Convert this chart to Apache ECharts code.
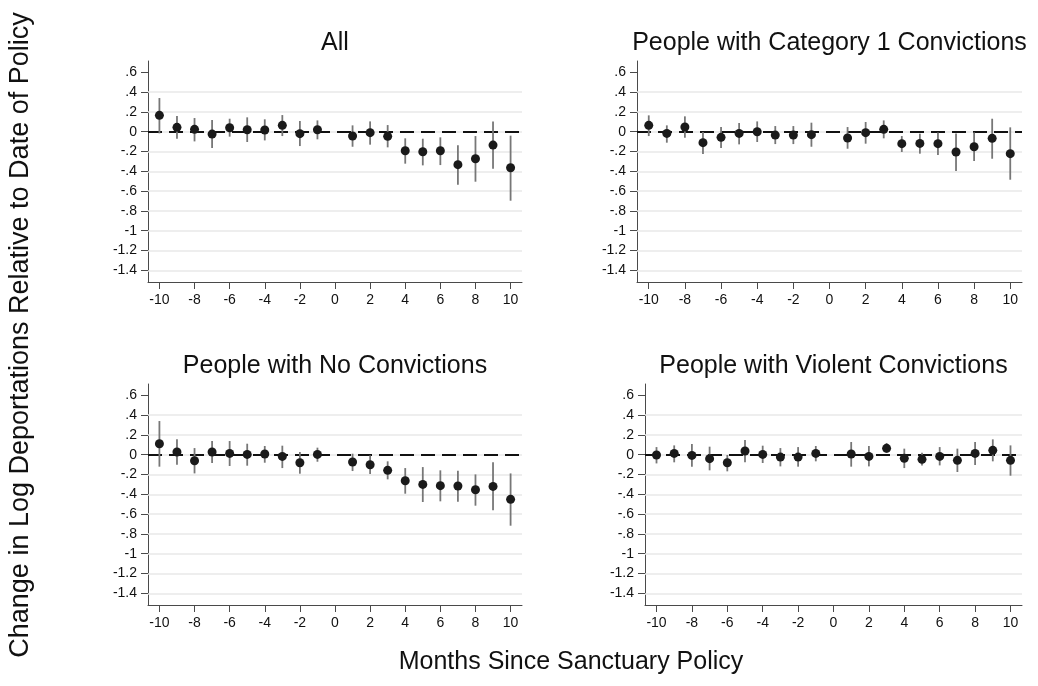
<!DOCTYPE html>
<html>
<head>
<meta charset="utf-8">
<title>Event study: deportations around sanctuary policy</title>
<script src="https://cdn.jsdelivr.net/npm/echarts@6/dist/echarts.min.js"></script>
<style>
  html, body { margin: 0; padding: 0; background: #ffffff; }
  #chart { width: 1038px; height: 686px; }
</style>
</head>
<body>
<div id="chart"></div>
<script>
// Event-time months (0 is the reference month and is omitted)
const months = [-10, -9, -8, -7, -6, -5, -4, -3, -2, -1, 1, 2, 3, 4, 5, 6, 7, 8, 9, 10];

// Panel titles
const panelTitles = [
  'All',
  'People with Category 1 Convictions',
  'People with No Convictions',
  'People with Violent Convictions'
];

// All deportations: point estimate and 95% CI bounds
const allEst = [0.165, 0.044, 0.024, -0.024, 0.040, 0.020, 0.017, 0.064, -0.020, 0.020,
                -0.044, -0.010, -0.047, -0.192, -0.202, -0.192, -0.333, -0.273, -0.135, -0.364];
const allLo  = [-0.017, -0.070, -0.098, -0.165, -0.050, -0.104, -0.088, -0.044, -0.145, -0.077,
                -0.152, -0.131, -0.158, -0.323, -0.340, -0.337, -0.535, -0.505, -0.374, -0.697];
const allHi  = [0.340, 0.158, 0.138, 0.118, 0.131, 0.145, 0.125, 0.168, 0.108, 0.114,
                0.064, 0.104, 0.067, -0.067, -0.071, -0.057, -0.138, -0.044, 0.104, -0.040];

// Category 1 convictions
const cat1Est = [0.064, -0.017, 0.047, -0.111, -0.057, -0.017, 0.000, -0.034, -0.034, -0.030,
                 -0.064, -0.010, 0.024, -0.121, -0.118, -0.121, -0.205, -0.152, -0.067, -0.222];
const cat1Lo  = [-0.044, -0.111, -0.061, -0.226, -0.165, -0.128, -0.104, -0.125, -0.125, -0.152,
                 -0.172, -0.121, -0.067, -0.205, -0.222, -0.236, -0.397, -0.296, -0.273, -0.485];
const cat1Hi  = [0.165, 0.064, 0.155, -0.003, 0.047, 0.088, 0.104, 0.057, 0.057, 0.091,
                 0.047, 0.098, 0.114, -0.044, -0.020, -0.007, -0.017, -0.007, 0.131, 0.044];

// No convictions
const noneEst = [0.111, 0.027, -0.061, 0.027, 0.013, 0.003, 0.007, -0.017, -0.081, 0.003,
                 -0.074, -0.101, -0.158, -0.263, -0.300, -0.313, -0.316, -0.354, -0.320, -0.451];
const noneLo  = [-0.121, -0.101, -0.189, -0.084, -0.114, -0.111, -0.081, -0.135, -0.192, -0.071,
                 -0.165, -0.195, -0.249, -0.394, -0.478, -0.471, -0.475, -0.515, -0.562, -0.717];
const noneHi  = [0.340, 0.155, 0.067, 0.138, 0.138, 0.111, 0.088, 0.091, 0.027, 0.071,
                 0.010, -0.007, -0.067, -0.135, -0.125, -0.158, -0.162, -0.199, -0.077, -0.189];

// Violent convictions
const violEst = [-0.003, 0.013, -0.007, -0.040, -0.081, 0.037, 0.003, -0.024, -0.024, 0.013,
                 0.007, -0.017, 0.064, -0.037, -0.047, -0.017, -0.057, 0.013, 0.044, -0.057];
const violLo  = [-0.088, -0.077, -0.121, -0.158, -0.168, -0.077, -0.084, -0.118, -0.121, -0.067,
                 -0.121, -0.118, 0.017, -0.135, -0.108, -0.108, -0.175, -0.104, -0.067, -0.212];
const violHi  = [0.077, 0.094, 0.108, 0.081, -0.003, 0.148, 0.091, 0.067, 0.077, 0.088,
                 0.128, 0.088, 0.118, 0.061, 0.020, 0.077, 0.061, 0.128, 0.155, 0.094];

// Axis ticks and their printed labels
const yTicks = [0.6, 0.4, 0.2, 0, -0.2, -0.4, -0.6, -0.8, -1, -1.2, -1.4];
const yTickLabels = ['.6', '.4', '.2', '0', '-.2', '-.4', '-.6', '-.8', '-1', '-1.2', '-1.4'];
const gridValues = [0.4, 0.2, 0, -0.2, -0.4, -0.6, -0.8, -1, -1.2, -1.4];
const xTicks = [-10, -8, -6, -4, -2, 0, 2, 4, 6, 8, 10];
const xTickLabels = ['-10', '-8', '-6', '-4', '-2', '0', '2', '4', '6', '8', '10'];

const panels = [
  { est: allEst,  lo: allLo,  hi: allHi  },
  { est: cat1Est, lo: cat1Lo, hi: cat1Hi },
  { est: noneEst, lo: noneLo, hi: noneHi },
  { est: violEst, lo: violLo, hi: violHi }
];

const FONT = '"Liberation Sans", Arial, Helvetica, sans-serif';
const X_MIN = -10.65, X_MAX = 10.65;
const Y_MIN = -1.518, Y_MAX = 0.714;

// Plot-region boxes for the 2x2 layout
const grids = [
  { left: 148, right: 516, top: 61,  bottom: 404 },
  { left: 637, right: 16,  top: 61,  bottom: 404 },
  { left: 148, right: 516, top: 384, bottom: 81 },
  { left: 645, right: 16,  top: 384, bottom: 81 }
];

function labelFor(ticks, labels) {
  return function (v) {
    for (let i = 0; i < ticks.length; i++) {
      if (Math.abs(ticks[i] - v) < 1e-6) return labels[i];
    }
    return '';
  };
}

const axisColor = '#4a4a4a';

const xAxes = grids.map((g, i) => ({
  gridIndex: i, type: 'value', min: X_MIN, max: X_MAX,
  axisLine: { show: true, onZero: false, lineStyle: { color: axisColor, width: 1 } },
  axisTick: { show: true, length: 7, customValues: xTicks, lineStyle: { color: axisColor } },
  axisLabel: { customValues: xTicks, formatter: labelFor(xTicks, xTickLabels),
               fontSize: 14, color: '#111', fontFamily: FONT, margin: 11 },
  splitLine: { show: false }
}));

const yAxes = grids.map((g, i) => ({
  gridIndex: i, type: 'value', min: Y_MIN, max: Y_MAX,
  axisLine: { show: true, onZero: false, lineStyle: { color: axisColor, width: 1 } },
  axisTick: { show: true, length: 7, customValues: yTicks, lineStyle: { color: axisColor } },
  axisLabel: { customValues: yTicks, formatter: labelFor(yTicks, yTickLabels),
               fontSize: 14, color: '#111', fontFamily: FONT, margin: 11 },
  splitLine: { show: false }
}));

const series = [];
panels.forEach((p, i) => {
  // light horizontal grid lines
  series.push({
    type: 'line', xAxisIndex: i, yAxisIndex: i, data: [], z: 1, silent: true,
    markLine: {
      silent: true, symbol: ['none', 'none'], label: { show: false }, z: 1,
      lineStyle: { color: '#e8e8e8', width: 1.6, type: 'solid' },
      data: gridValues.map(v => ({ yAxis: v }))
    }
  });
  // dashed reference line at zero
  series.push({
    type: 'line', xAxisIndex: i, yAxisIndex: i, data: [], z: 2, silent: true,
    markLine: {
      silent: true, symbol: ['none', 'none'], label: { show: false }, z: 2,
      lineStyle: { color: '#111', width: 2.2, type: [14, 7] },
      data: [{ yAxis: 0 }]
    }
  });
  // confidence interval whiskers
  series.push({
    type: 'custom', xAxisIndex: i, yAxisIndex: i, z: 5, silent: true,
    data: months.map((m, k) => [m, p.lo[k], p.hi[k]]),
    encode: { x: 0, y: [1, 2] },
    renderItem: function (params, api) {
      const a = api.coord([api.value(0), api.value(1)]);
      const b = api.coord([api.value(0), api.value(2)]);
      return {
        type: 'line',
        shape: { x1: a[0], y1: a[1], x2: b[0], y2: b[1] },
        style: { stroke: '#777777', lineWidth: 1.8 }
      };
    }
  });
  // point estimates
  series.push({
    type: 'scatter', xAxisIndex: i, yAxisIndex: i, z: 10, silent: true,
    symbol: 'circle', symbolSize: 9,
    itemStyle: { color: '#1a1a1a', opacity: 1 },
    data: months.map((m, k) => [m, p.est[k]])
  });
});

const graphics = [];
grids.forEach((g, i) => {
  const left = g.left;
  const right = 1038 - g.right;
  const cx = (left + right) / 2;
  graphics.push({
    type: 'text', silent: true,
    style: { text: panelTitles[i], x: cx, y: g.top - 18, align: 'center', verticalAlign: 'middle',
             font: '25px ' + FONT, fill: '#111' }
  });
});
graphics.push({
  type: 'text', silent: true, rotation: Math.PI / 2, x: 21, y: 335,
  style: { text: 'Change in Log Deportations Relative to Date of Policy', x: 0, y: 0,
           align: 'center', verticalAlign: 'middle', font: '27px ' + FONT, fill: '#111' }
});
graphics.push({
  type: 'text', silent: true,
  style: { text: 'Months Since Sanctuary Policy', x: 571, y: 662,
           align: 'center', verticalAlign: 'middle', font: '25px ' + FONT, fill: '#111' }
});

const chart = echarts.init(document.getElementById('chart'), null, { renderer: 'canvas' });
chart.setOption({
  backgroundColor: '#ffffff',
  animation: false,
  grid: grids.map(g => Object.assign({ containLabel: false }, g)),
  xAxis: xAxes,
  yAxis: yAxes,
  series: series,
  graphic: graphics
});
</script>
</body>
</html>
